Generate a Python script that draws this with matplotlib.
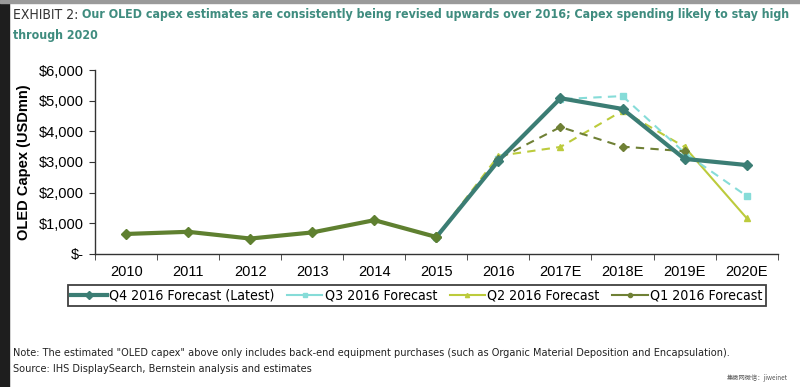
import matplotlib
matplotlib.use("Agg")
import matplotlib.pyplot as plt
import numpy as np
from matplotlib.lines import Line2D
from matplotlib import font_manager

categories = ["2010", "2011", "2012", "2013", "2014", "2015", "2016", "2017E", "2018E", "2019E", "2020E"]
history = [650, 720, 500, 700, 1100, 550]
q4 = [550, 3040, 5080, 4730, 3100, 2900]      # 2015 .. 2020E
q3 = [550, 3100, 5050, 5150, 3300, 1890]      # 2015 .. 2020E
q2 = [550, 3200, 3490, 4670, 3490, 1170]      # 2015 .. 2020E
q1 = [550, 3100, 4140, 3500, 3350]            # 2015 .. 2019E
series_names = ["Q4 2016 Forecast (Latest)", "Q3 2016 Forecast", "Q2 2016 Forecast", "Q1 2016 Forecast"]
y_ticks = [0, 1000, 2000, 3000, 4000, 5000, 6000]
y_labels = ["$-", "$1,000", "$2,000", "$3,000", "$4,000", "$5,000", "$6,000"]

c_q4 = "#3b7d74"
c_q3 = "#86dcd8"
c_q2 = "#bccb3c"
c_q1 = "#6f8035"
c_hist = "#5f8030"

installed = {f.name for f in font_manager.fontManager.ttflist}
narrow = "Liberation Sans Narrow" if "Liberation Sans Narrow" in installed else "DejaVu Sans"
narrow_stretch = "normal" if narrow == "Liberation Sans Narrow" else "condensed"

plt.rcParams['font.family'] = ['Liberation Sans', 'DejaVu Sans']

fig = plt.figure(figsize=(8, 3.87), dpi=100)
fig.patch.set_facecolor("white")

fig.patches.append(plt.Rectangle((0, 0), 0.011, 1, transform=fig.transFigure, color="#1e1e1e", zorder=0))
fig.patches.append(plt.Rectangle((0, 0.993), 1, 0.007, transform=fig.transFigure, color="#9a9a9a", zorder=0))

ax = fig.add_axes([0.119, 0.344, 0.853, 0.475])
x = np.arange(len(categories))
xf = x[5:]

ax.plot(xf[:len(q1)], q1, color=c_q1, lw=1.5, ls=(0, (4, 3)), marker="D", ms=4, zorder=3)
ax.plot(xf[:5], q2[:5], color=c_q2, lw=1.5, ls=(0, (4, 3)), marker="^", ms=4, zorder=2)
ax.plot(xf[4:], q2[4:], color=c_q2, lw=1.5, ls="-", marker="^", ms=4, zorder=2)
ax.plot(xf, q3, color=c_q3, lw=1.5, ls=(0, (4, 3)), marker="s", ms=4, zorder=2.5)
ax.plot(xf, q4, color=c_q4, lw=3, marker="D", ms=5, zorder=4)
ax.plot(x[:6], history, color=c_hist, lw=3, marker="D", ms=5, zorder=5)

handles = [
    Line2D([], [], color=c_q4, lw=3, marker="D", ms=4),
    Line2D([], [], color=c_q3, lw=1.5, marker="s", ms=3),
    Line2D([], [], color=c_q2, lw=1.5, marker="^", ms=3),
    Line2D([], [], color=c_q1, lw=1.5, marker="o", ms=3),
]
leg = fig.legend(handles, series_names, loc="center", bbox_to_anchor=(0.521, 0.236), ncol=4,
                 frameon=True, fancybox=False, edgecolor="#111111",
                 prop=dict(family=narrow, stretch=narrow_stretch, size=10.2),
                 handlelength=2.5, handletextpad=0.15, columnspacing=0.9, borderpad=0.25)
leg.get_frame().set_linewidth(1.3)

ax.set_xlim(-0.5, len(categories) - 0.5)
ax.set_ylim(0, 6000)
ax.set_yticks(y_ticks)
ax.set_yticklabels(y_labels, fontsize=10.5)
ax.set_xticks(x)
ax.set_xticklabels(categories, fontsize=10.5)
ax.set_xticks(np.arange(-0.5, len(categories), 1), minor=True)
ax.tick_params(axis="x", which="major", length=0, pad=8)
ax.tick_params(axis="x", which="minor", length=4, direction="out", color="#333333")
ax.tick_params(axis="y", length=4, direction="out", color="#333333", pad=4)
for s in ["top", "right"]:
    ax.spines[s].set_visible(False)
for s in ["left", "bottom"]:
    ax.spines[s].set_color("#333333")
    ax.spines[s].set_linewidth(1.0)
ax.set_ylabel("OLED Capex (USDmn)", fontsize=10.5, fontweight="bold", labelpad=6)

tprops = dict(family=narrow, stretch=narrow_stretch)
t1 = fig.text(0.016, 0.962, "EXHIBIT 2: ", fontsize=10, color="#333333", va="center", ha="left", **tprops)
fig.canvas.draw()
bb = t1.get_window_extent()
x_after = bb.x1 / fig.bbox.width
fig.text(x_after, 0.962, "Our OLED capex estimates are consistently being revised upwards over 2016; Capex spending likely to stay high",
         fontsize=8.9, color="#3f8c7f", fontweight="bold", va="center", ha="left", **tprops)
fig.text(0.016, 0.907, "through 2020", fontsize=8.9, color="#3f8c7f", fontweight="bold", va="center", ha="left", **tprops)

fig.text(0.016, 0.088, "Note: The estimated \"OLED capex\" above only includes back-end equipment purchases (such as Organic Material Deposition and Encapsulation).",
         fontsize=7.8, color="#222222", va="center", ha="left", **tprops)
fig.text(0.016, 0.047, "Source: IHS DisplaySearch, Bernstein analysis and estimates",
         fontsize=7.8, color="#222222", va="center", ha="left", **tprops)
fig.text(0.985, 0.012, "集微网微信：jiweinet", fontsize=4.5, color="#555555", va="bottom", ha="right",
         family=["Noto Sans CJK SC", "DejaVu Sans"])

fig.savefig("out.png", dpi=100)
